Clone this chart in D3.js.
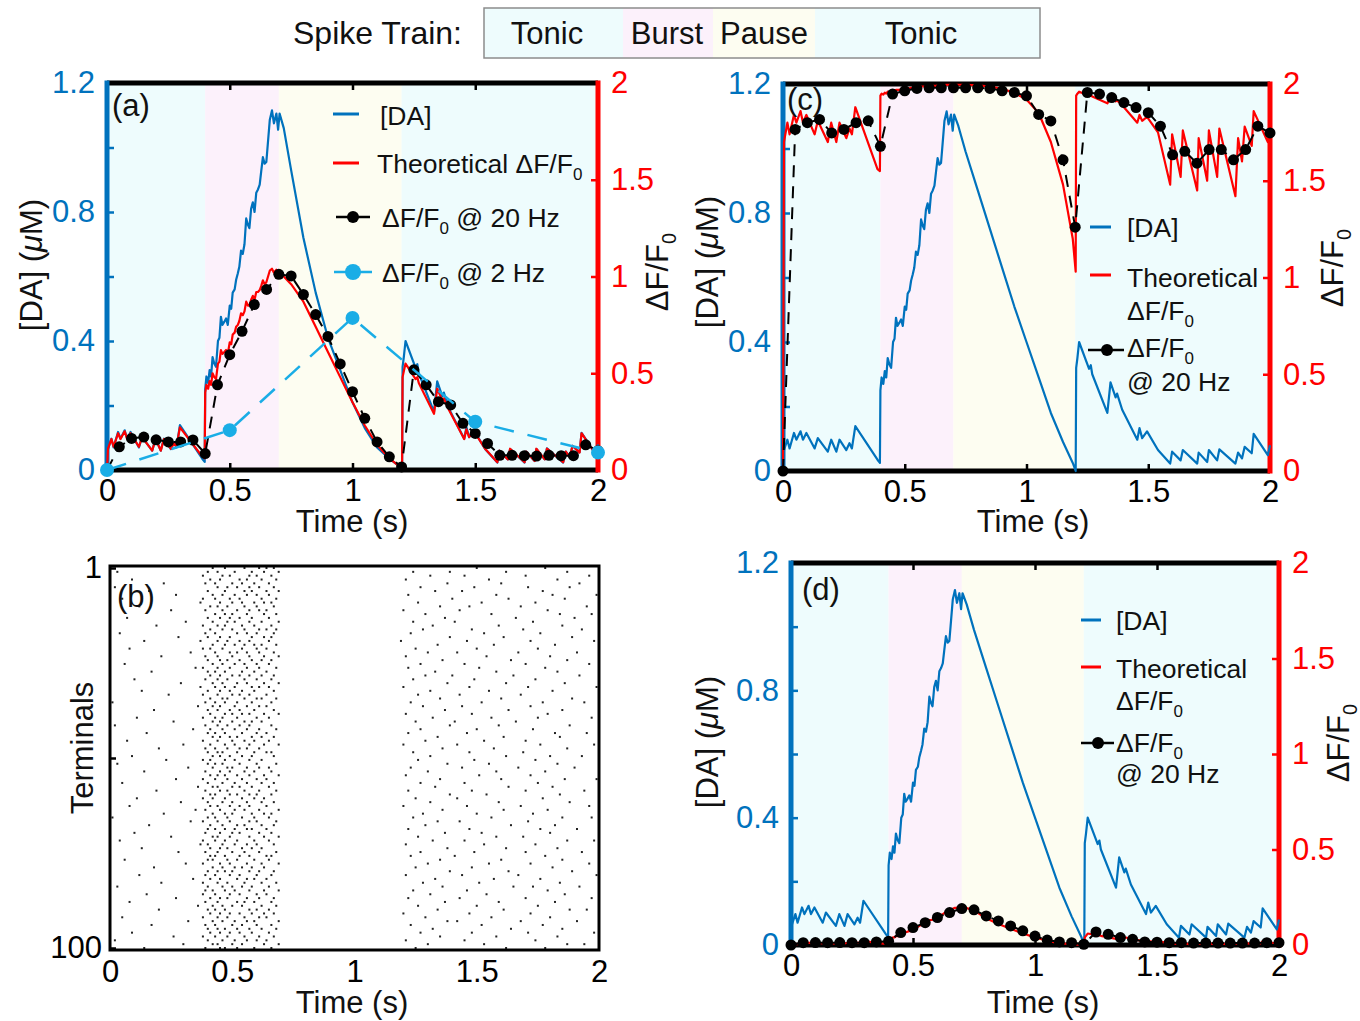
<!DOCTYPE html>
<html><head><meta charset="utf-8">
<script src="https://cdn.jsdelivr.net/npm/d3@7"></script>
<style>body{margin:0;background:#fff}</style>
</head><body>
<script>
// ---------------- DATA ----------------
const phaseNames = ['Tonic','Burst','Pause','Tonic'];
const phaseStart = [0, 0.4, 0.7, 1.2];
const phaseEnd   = [0.4, 0.7, 1.2, 2];
const phaseColors = ['#eefcfd','#fcf1fb','#fdfdf1','#eefcfd'];

const xTickVals = [0, 0.5, 1, 1.5, 2];
const daTickVals = [0, 0.2, 0.4, 0.6, 0.8, 1, 1.2];
const daLabelVals = [0, 0.4, 0.8, 1.2];
const dffTickVals = [0, 0.5, 1, 1.5, 2];

// vertex times (s) of the simulated traces, by segment
const tTonic1 = [0,0.004,0.018,0.027,0.045,0.055,0.072,0.082,0.096,0.130,0.143,0.184,0.198,0.219,0.232,0.260,0.273,0.283,0.297,0.388];
const tBurst = [0.398,0.400,0.405,0.412,0.418,0.424,0.430,0.437,0.444,0.452,0.458,0.464,0.470,0.478,0.485,0.492,0.500,0.506,0.512,0.520,0.526,0.533,0.539,0.546,0.553,0.560,0.567,0.574,0.580,0.587,0.594,0.601,0.608,0.615,0.622,0.628,0.635,0.642,0.649,0.656,0.663,0.672,0.680,0.690,0.697,0.703];
const tPause = [0.720,0.750,0.800,0.850,0.900,0.950,1.000,1.050,1.100,1.150,1.190,1.202];
const tTonic2 = [1.204,1.209,1.216,1.257,1.264,1.270,1.332,1.345,1.366,1.372,1.393,1.455,1.464,1.475,1.495,1.540,1.590,1.598,1.633,1.642,1.701,1.707,1.742,1.749,1.783,1.792,1.858,1.869,1.885,1.896,1.925,1.933,1.991,2.000];

// [DA] (uM)
const daTonic1 = [0,0.065,0.097,0.070,0.118,0.097,0.123,0.097,0.118,0.070,0.102,0.060,0.097,0.060,0.097,0.065,0.086,0.070,0.139,0.035];
const daBurst = [0.025,0.25,0.29,0.27,0.31,0.29,0.35,0.33,0.32,0.40,0.41,0.475,0.45,0.46,0.47,0.45,0.51,0.50,0.55,0.56,0.59,0.61,0.63,0.68,0.67,0.70,0.78,0.76,0.75,0.81,0.83,0.80,0.86,0.87,0.885,0.925,0.97,0.95,0.955,1.02,1.085,1.115,1.075,1.105,1.055,1.105];
const daPauseA = [1.06,0.93,0.72,0.55,0.41,0.31,0.21,0.13,0.07,0.035,0.012,0];
const daPauseCD = [1.07,0.99,0.87,0.75,0.63,0.51,0.40,0.29,0.18,0.09,0.025,0];
const daTonic2 = [0.32,0.35,0.40,0.317,0.328,0.30,0.18,0.275,0.228,0.24,0.19,0.097,0.133,0.102,0.123,0.065,0.023,0.060,0.033,0.065,0.023,0.057,0.028,0.065,0.033,0.067,0.023,0.057,0.039,0.075,0.055,0.115,0.049,0.080];

// Theoretical dF/F0 per panel
const dffA = [
 0,0.11,0.16,0.12,0.19,0.16,0.20,0.16,0.19,0.12,0.17,0.10,0.16,0.10,0.16,0.11,0.14,0.12,0.22,0.07,
 0.06,0.40,0.44,0.42,0.46,0.44,0.50,0.48,0.47,0.55,0.56,0.62,0.60,0.61,0.62,0.60,0.66,0.65,0.70,0.71,0.74,0.75,0.77,0.81,0.80,0.82,0.87,0.85,0.85,0.88,0.90,0.88,0.92,0.92,0.93,0.95,0.98,0.96,0.97,1.00,1.03,1.04,1.02,1.035,1.01,1.03,
 1.00,0.96,0.87,0.74,0.61,0.48,0.35,0.23,0.13,0.06,0.02,0,
 0.48,0.51,0.55,0.47,0.48,0.45,0.29,0.42,0.36,0.37,0.31,0.16,0.21,0.17,0.20,0.11,0.04,0.10,0.055,0.11,0.04,0.095,0.047,0.11,0.055,0.11,0.04,0.095,0.065,0.125,0.09,0.19,0.08,0.13];
const dffC = [
 0,1.70,1.80,1.74,1.84,1.80,1.86,1.80,1.84,1.74,1.81,1.70,1.80,1.70,1.80,1.72,1.77,1.74,1.88,1.56,
 1.55,1.94,1.95,1.945,1.955,1.95,1.96,1.955,1.955,1.965,1.965,1.97,1.97,1.97,1.972,1.97,1.975,1.975,1.978,1.978,1.98,1.98,1.982,1.984,1.984,1.985,1.987,1.987,1.987,1.988,1.989,1.989,1.99,1.99,1.99,1.991,1.992,1.992,1.992,1.993,1.994,1.995,1.995,1.995,1.995,1.996,
 1.996,1.996,1.993,1.987,1.975,1.955,1.92,1.85,1.70,1.48,1.20,1.03,
 1.94,1.95,1.96,1.94,1.945,1.935,1.90,1.93,1.91,1.915,1.89,1.80,1.84,1.81,1.83,1.75,1.48,1.74,1.52,1.76,1.45,1.72,1.50,1.76,1.52,1.77,1.42,1.72,1.60,1.78,1.68,1.86,1.70,1.76];
const dffD = [
 0,0.003,0.006,0.005,0.010,0.008,0.012,0.010,0.013,0.008,0.011,0.007,0.011,0.008,0.012,0.009,0.012,0.011,0.020,0.006,
 0.005,0.030,0.035,0.035,0.040,0.040,0.047,0.046,0.047,0.057,0.060,0.068,0.067,0.070,0.073,0.072,0.080,0.081,0.090,0.095,0.100,0.105,0.108,0.116,0.117,0.122,0.131,0.131,0.133,0.141,0.146,0.146,0.154,0.157,0.161,0.167,0.174,0.174,0.177,0.184,0.190,0.195,0.194,0.196,0.194,0.196,
 0.193,0.182,0.140,0.110,0.085,0.060,0.040,0.022,0.010,0.004,0.001,0,
 0.040,0.048,0.060,0.050,0.052,0.048,0.032,0.042,0.038,0.039,0.032,0.018,0.022,0.018,0.020,0.012,0.004,0.010,0.005,0.011,0.004,0.009,0.005,0.011,0.005,0.011,0.004,0.009,0.006,0.012,0.009,0.020,0.008,0.013];

// sampled dF/F0 @ 20 Hz
const t20 = [0,0.05,0.1,0.15,0.2,0.25,0.3,0.35,0.4,0.45,0.5,0.55,0.6,0.65,0.7,0.75,0.8,0.85,0.9,0.95,1,1.05,1.1,1.15,1.2,1.25,1.3,1.35,1.4,1.45,1.5,1.55,1.6,1.65,1.7,1.75,1.8,1.85,1.9,1.95,2];
const dots20A = [0,0.12,0.163,0.17,0.156,0.145,0.145,0.155,0.085,0.44,0.596,0.717,0.855,0.933,1.011,1.003,0.907,0.803,0.69,0.548,0.405,0.267,0.145,0.068,0.016,0.518,0.44,0.353,0.336,0.241,0.189,0.137,0.076,0.076,0.074,0.072,0.076,0.074,0.074,0.13,0.10];
const dots20C = [0,1.765,1.80,1.817,1.747,1.765,1.80,1.81,1.678,1.948,1.965,1.977,1.98,1.98,1.98,1.98,1.98,1.977,1.965,1.956,1.939,1.843,1.809,1.608,1.26,1.956,1.948,1.93,1.904,1.878,1.852,1.782,1.634,1.652,1.591,1.661,1.661,1.608,1.661,1.782,1.747];
const dots20D = [0,0.012,0.013,0.012,0.013,0.012,0.012,0.016,0.02,0.065,0.091,0.117,0.144,0.17,0.191,0.184,0.152,0.126,0.10,0.074,0.047,0.026,0.016,0.012,0.004,0.068,0.056,0.039,0.03,0.016,0.015,0.012,0.012,0.01,0.01,0.01,0.01,0.01,0.01,0.012,0.012];
// sampled dF/F0 @ 2 Hz (panel a)
const t2 = [0, 0.5, 1, 1.5, 2];
const dots2A = [0, 0.206, 0.786, 0.249, 0.09];

// raster: spike times per terminal, in units of 10 ms
const spikes = [
[42,47,55,61,64,67,150,178],[3,40,44,51,58,63,69,124,139,162,187],[38,46,49,57,60,66,131,145,170,196],[9,41,45,53,56,62,68,121,155,183],
[22,39,43,50,54,59,65,138,160,192],[2,44,48,52,57,61,67,127,149,171,188],[16,40,47,55,58,64,69,133,144,177],[27,42,46,51,56,60,65,122,158,181,199],
[5,38,43,49,53,62,68,140,163,186],[37,45,50,54,59,63,66,126,152,174],[12,41,44,48,55,60,67,135,147,168,195],[25,39,46,52,57,61,64,120,143,179],
[43,47,50,56,63,68,129,156,184,197],[7,40,45,49,53,58,65,137,166,190],[31,42,48,51,57,62,69,124,141,173],[19,38,44,47,54,59,66,132,159,185],
[41,46,50,55,61,64,68,128,148,169,193],[4,39,43,52,56,60,67,123,153,176],[28,40,45,49,58,63,66,139,161,189],[14,37,44,48,53,57,65,119,146,172,198],
[42,47,51,55,59,62,68,134,157,182],[8,38,41,46,54,60,64,125,150,175],[33,43,49,52,56,61,67,130,142,167,191],[21,39,44,50,57,63,69,121,154,180],
[40,45,48,53,58,62,66,136,164,187],[6,42,46,51,55,60,65,127,145,170,196],[35,38,44,49,56,61,68,122,151,178],[17,40,43,47,54,59,64,133,158,183],
[41,45,50,53,57,62,67,129,140,165,192],[10,39,44,48,55,60,66,124,149,174],[29,42,46,52,56,63,69,138,162,186],[37,43,47,51,58,61,65,120,147,171,199],
[13,40,45,49,54,59,67,131,155,181],[24,38,44,50,53,57,64,126,143,168],[41,46,48,55,60,62,68,135,160,189],[1,39,43,47,52,58,66,123,152,177,194],
[36,42,45,51,56,61,64,128,144,172],[18,40,44,49,53,59,67,137,163,185],[41,47,50,54,57,63,69,121,148,179],[11,38,43,46,52,60,65,132,156,175,197],
[26,42,45,50,55,58,62,125,141,166],[2,39,44,48,53,57,66,139,159,188],[34,41,46,51,56,61,68,127,150,173],[15,40,43,47,54,60,64,122,146,182,195],
[42,45,49,52,58,62,67,134,161,184],[7,38,44,50,55,59,65,129,153,170],[30,41,47,51,57,63,69,120,142,176,198],[20,39,43,48,53,56,61,136,157,187],
[40,44,46,52,59,64,66,124,147,169],[9,42,45,49,54,58,67,131,162,180,193],[23,38,41,47,51,57,62,126,149,174],[3,40,43,46,53,60,68,138,155,183],
[32,42,48,50,56,61,65,123,144,167,190],[14,39,45,49,55,59,66,130,158,178],[41,44,47,52,57,63,69,121,151,172],[27,38,43,48,54,60,64,135,160,186,199],
[5,40,46,51,56,62,67,127,145,175],[36,42,44,50,53,58,65,133,163,181],[19,39,45,48,55,61,68,122,148,170,194],[41,43,49,52,57,60,66,139,154,184],
[11,38,42,47,54,59,63,125,142,177],[29,40,46,50,56,62,67,131,159,188],[8,41,44,49,53,57,64,120,146,168,196],[35,39,45,51,55,61,69,136,161,179],
[22,42,47,50,58,63,66,128,150,173],[1,40,43,48,54,59,65,124,156,185,197],[33,38,44,49,57,60,68,134,143,171],[16,41,46,52,55,62,67,129,164,182],
[40,43,47,51,56,58,64,122,147,176,191],[10,39,45,50,53,61,66,137,152,180],[25,42,44,49,57,63,69,126,158,169],[4,38,43,47,52,59,65,132,145,187,198],
[37,40,46,51,56,60,67,121,153,174],[13,41,45,48,54,58,62,138,162,183],[28,39,44,50,55,61,68,127,149,170,193],[41,43,47,53,57,64,66,123,141,178],
[6,40,42,48,52,59,65,135,160,185],[31,38,45,49,56,62,69,130,155,172,196],[18,42,46,51,54,58,63,125,148,181],[40,44,47,50,57,61,67,139,163,189],
[12,39,43,49,53,60,66,121,144,167,199],[34,41,45,52,56,59,64,133,157,176],[21,38,44,48,55,62,68,128,151,184],[3,40,46,50,54,58,65,136,165,173,192],
[39,42,47,51,57,63,69,124,146,179],[15,38,43,49,53,60,64,131,154,186],[27,41,45,48,56,61,67,122,143,170,197],[8,39,44,52,55,59,66,137,159,182],
[36,42,46,50,54,62,68,126,150,175],[20,40,43,47,57,60,65,134,161,188,195],[41,45,49,53,58,63,67,120,147,172],[5,38,44,48,55,61,64,129,156,180],
[32,42,46,51,56,59,69,138,142,168,191],[17,39,43,50,54,60,66,123,152,177],[40,44,47,52,57,62,68,132,164,185],[9,41,45,49,53,58,65,127,148,171,198],
[26,38,43,48,55,61,67,135,158,183],[2,40,46,51,56,60,64,121,145,174],[30,42,44,50,54,63,69,130,153,187,194],[14,39,45,47,52,59,66,125,162,178]
];

// ---------------- DRAW ----------------
const FONT = '"Liberation Sans", Arial, Helvetica, sans-serif';
const BLUE = '#0072BD', RED = '#FF0000', CYAN = '#1AADE6', INK = '#111';
const LEG = 26.5;   // legend font size
const svg = d3.select('body').append('svg').attr('width',1360).attr('height',1021)
  .style('font-family', FONT);

function rich(g, x, y, parts, opt = {}) {
  const size = opt.size || 31;
  const subSize = Math.round(size * 0.64), subDy = Math.round(size * 0.26);
  const t = g.append('text').attr('x', x).attr('y', y).attr('fill', opt.fill || INK)
    .style('font-size', size + 'px');
  if (opt.anchor) t.attr('text-anchor', opt.anchor);
  if (opt.transform) t.attr('transform', opt.transform);
  let sub = false;
  parts.forEach(p => {
    const s = t.append('tspan').text(p.t);
    if (p.sub) { s.attr('dy', subDy).style('font-size', subSize + 'px'); sub = true; }
    else if (sub) { s.attr('dy', -subDy); sub = false; }
    if (p.it) s.style('font-style', 'italic');
  });
  return t;
}
const DFF = [{t:'ΔF/F'},{t:'0',sub:true}];

function axisStyle(sel, color) {
  sel.select('.domain').remove();
  sel.selectAll('.tick line').attr('stroke', color).attr('stroke-width', 2.5);
  sel.selectAll('.tick text').attr('fill', color).style('font-size', '31px').style('font-family', FONT);
}

function dualPanel(P) {
  const g = svg.append('g');
  const x = d3.scaleLinear([0, 2], [P.x0, P.x1]);
  const yL = d3.scaleLinear([0, 1.2], [P.yB, P.yT]);
  const yR = d3.scaleLinear([0, 2], [P.yB, P.yT]);
  // phase shading
  g.append('g').selectAll('rect').data(phaseStart).join('rect')
    .attr('x', d => x(d)).attr('width', (d, i) => x(phaseEnd[i]) - x(d))
    .attr('y', P.yT).attr('height', P.yB - P.yT).attr('fill', (d, i) => phaseColors[i]);
  // axes
  g.append('g').attr('transform', `translate(0,${P.yB})`)
    .call(d3.axisBottom(x).tickValues(xTickVals).tickSize(-7).tickSizeOuter(0).tickPadding(9).tickFormat(d => String(d)))
    .call(s => axisStyle(s, '#000'));
  g.append('g').attr('transform', `translate(0,${P.yT})`)
    .call(d3.axisTop(x).tickValues(xTickVals).tickSize(-7).tickSizeOuter(0).tickFormat(''))
    .call(s => axisStyle(s, '#000'));
  g.append('g').attr('transform', `translate(${P.x0},0)`)
    .call(d3.axisLeft(yL).tickValues(daTickVals).tickSize(-7).tickSizeOuter(0).tickPadding(12)
      .tickFormat(d => daLabelVals.includes(d) ? String(d) : ''))
    .call(s => axisStyle(s, BLUE));
  g.append('g').attr('transform', `translate(${P.x1},0)`)
    .call(d3.axisRight(yR).tickValues(dffTickVals).tickSize(-7).tickSizeOuter(0).tickPadding(13).tickFormat(d => String(d)))
    .call(s => axisStyle(s, RED));
  // frame
  const [xa, xb] = x.range(), [ya, yb] = yL.range();
  g.append('line').attr('x1', xa).attr('x2', xb).attr('y1', yb).attr('y2', yb).attr('stroke', '#000').attr('stroke-width', 5);
  g.append('line').attr('x1', xa).attr('x2', xb).attr('y1', ya).attr('y2', ya).attr('stroke', '#000').attr('stroke-width', 5);
  g.append('line').attr('x1', xa).attr('x2', xa).attr('y1', ya + 2.5).attr('y2', yb - 2.5).attr('stroke', BLUE).attr('stroke-width', 5);
  g.append('line').attr('x1', xb).attr('x2', xb).attr('y1', ya + 2.5).attr('y2', yb - 2.5).attr('stroke', RED).attr('stroke-width', 5);
  // data
  const lnL = d3.line().x(d => x(d[0])).y(d => yL(d[1]));
  const lnR = d3.line().x(d => x(d[0])).y(d => yR(d[1]));
  g.append('path').datum(d3.zip(P.t, P.da)).attr('d', lnL).attr('fill', 'none')
    .attr('stroke', BLUE).attr('stroke-width', 2.2).attr('stroke-linejoin', 'round');
  g.append('path').datum(d3.zip(P.t, P.dff)).attr('d', lnR).attr('fill', 'none')
    .attr('stroke', RED).attr('stroke-width', 2.2).attr('stroke-linejoin', 'round');
  const d20 = d3.zip(t20, P.dots);
  g.append('path').datum(d20).attr('d', lnR).attr('fill', 'none')
    .attr('stroke', '#000').attr('stroke-width', 2).attr('stroke-dasharray', '12,9');
  g.append('g').selectAll('circle').data(d20).join('circle')
    .attr('cx', d => x(d[0])).attr('cy', d => yR(d[1])).attr('r', 5.5).attr('fill', '#000');
  if (P.dots2) {
    const d2 = d3.zip(t2, P.dots2);
    g.append('path').datum(d2).attr('d', lnR).attr('fill', 'none')
      .attr('stroke', CYAN).attr('stroke-width', 2.5).attr('stroke-dasharray', '20,14');
    g.append('g').selectAll('circle').data(d2).join('circle')
      .attr('cx', d => x(d[0])).attr('cy', d => yR(d[1])).attr('r', 7).attr('fill', CYAN);
  }
  // labels
  rich(g, P.lab[0], P.lab[1], [{t: P.label}]);
  rich(g, 0, 0, [{t:'Time (s)'}], {anchor:'middle', transform:`translate(${P.timeX},${P.timeY})`});
  rich(g, 0, 0, [{t:'[DA] ('},{t:'μ',it:true},{t:'M)'}], {anchor:'middle', transform:`translate(${P.ylX},${P.ylY}) rotate(-90)`});
  rich(g, 0, 0, DFF, {anchor:'middle', transform:`translate(${P.yrX},${P.yrY}) rotate(-90)`});
  P.legend(g);
}

function legLine(g, x1, x2, y, color, w) {
  g.append('line').attr('x1', x1).attr('x2', x2).attr('y1', y).attr('y2', y).attr('stroke', color).attr('stroke-width', w || 3);
}
function legDot(g, cx, cy, r, color) {
  g.append('circle').attr('cx', cx).attr('cy', cy).attr('r', r).attr('fill', color);
}
const L = {size: LEG};

// Panel (a)
dualPanel({x0:107, x1:598, yT:83, yB:470,
  t: [...tTonic1, ...tBurst, ...tPause, ...tTonic2],
  da: [...daTonic1, ...daBurst, ...daPauseA, ...daTonic2],
  dff: dffA, dots: dots20A, dots2: dots2A,
  label:'(a)', lab:[112,116], timeX:352, timeY:532, ylX:42, ylY:265, yrX:668, yrY:272,
  legend: g => {
    legLine(g, 333, 359, 114, BLUE);
    rich(g, 380, 125, [{t:'[DA]'}], L);
    legLine(g, 333, 359, 163, RED);
    rich(g, 377, 173, [{t:'Theoretical ΔF/F'},{t:'0',sub:true}], L);
    legLine(g, 336, 370, 217, '#000', 2.5); legDot(g, 353, 217, 6, '#000');
    rich(g, 382, 227, [{t:'ΔF/F'},{t:'0',sub:true},{t:' @ 20 Hz'}], L);
    legLine(g, 334, 372, 272, CYAN, 2.5); legDot(g, 353, 272, 8, CYAN);
    rich(g, 382, 282, [{t:'ΔF/F'},{t:'0',sub:true},{t:' @ 2 Hz'}], L);
  }});

// Panel (c)
dualPanel({x0:783, x1:1270, yT:84, yB:471,
  t: [...tTonic1, ...tBurst, ...tPause, ...tTonic2],
  da: [...daTonic1, ...daBurst, ...daPauseCD, ...daTonic2],
  dff: dffC, dots: dots20C,
  label:'(c)', lab:[787,110], timeX:1033, timeY:532, ylX:718, ylY:262, yrX:1343, yrY:268,
  legend: g => {
    legLine(g, 1090, 1111, 227, BLUE);
    rich(g, 1127, 237, [{t:'[DA]'}], L);
    legLine(g, 1090, 1111, 275, RED);
    rich(g, 1127, 287, [{t:'Theoretical'}], L);
    rich(g, 1127, 320, DFF, L);
    legLine(g, 1088, 1124, 350, '#000', 2.5); legDot(g, 1107, 350, 6, '#000');
    rich(g, 1127, 357, DFF, L);
    rich(g, 1127, 391, [{t:'@ 20 Hz'}], L);
  }});

// Panel (d)
dualPanel({x0:791, x1:1279, yT:563, yB:945,
  t: [...tTonic1, ...tBurst, ...tPause, ...tTonic2],
  da: [...daTonic1, ...daBurst, ...daPauseCD, ...daTonic2],
  dff: dffD, dots: dots20D,
  label:'(d)', lab:[802,600], timeX:1043, timeY:1013, ylX:718, ylY:742, yrX:1349, yrY:743,
  legend: g => {
    legLine(g, 1081, 1101, 620, BLUE);
    rich(g, 1116, 630, [{t:'[DA]'}], L);
    legLine(g, 1081, 1101, 667, RED);
    rich(g, 1116, 678, [{t:'Theoretical'}], L);
    rich(g, 1116, 710, DFF, L);
    legLine(g, 1081, 1114, 743, '#000', 2.5); legDot(g, 1098, 743, 6, '#000');
    rich(g, 1116, 752, DFF, L);
    rich(g, 1116, 783, [{t:'@ 20 Hz'}], L);
  }});

// Panel (b) raster
(function () {
  const g = svg.append('g');
  const x = d3.scaleLinear([0, 2], [110, 599]);
  const y = d3.scaleLinear([1, 100], [568, 948]);
  const pts = spikes.flatMap((row, i) => row.map(c => [c / 100, i + 1]));
  g.append('g').attr('transform', 'translate(0,951)')
    .call(d3.axisBottom(x).tickValues(xTickVals).tickSize(0).tickSizeOuter(0).tickPadding(9).tickFormat(d => String(d)))
    .call(s => axisStyle(s, '#000'));
  g.append('g').attr('transform', 'translate(110,0)')
    .call(d3.axisLeft(y).tickValues([1, 50.5, 100]).tickSize(-6).tickSizeOuter(0).tickPadding(8)
      .tickFormat(d => (d === 1 || d === 100) ? String(d) : ''))
    .call(s => axisStyle(s, '#000'));
  g.append('g').selectAll('rect').data(pts).join('rect')
    .attr('x', d => x(d[0]) - 1).attr('y', d => y(d[1]) - 1)
    .attr('width', 2).attr('height', 2).attr('fill', '#222');
  g.append('rect').attr('x', x(0)).attr('y', y(1) - 2).attr('width', x(2) - x(0)).attr('height', y(100) - y(1) + 4)
    .attr('fill', 'none').attr('stroke', '#000').attr('stroke-width', 3);
  rich(g, 117, 607, [{t:'(b)'}]);
  rich(g, 0, 0, [{t:'Time (s)'}], {anchor:'middle', transform:'translate(352,1013)'});
  rich(g, 0, 0, [{t:'Terminals'}], {anchor:'middle', transform:'translate(93,748) rotate(-90)'});
})();

// Top legend: spike train phases
(function () {
  const g = svg.append('g');
  const segX = [484, 623, 713, 815, 1040];
  const labX = [547, 667, 764, 921];
  rich(g, 293, 44, [{t:'Spike Train:'}], {size: 32});
  g.selectAll('rect.seg').data(phaseNames).join('rect')
    .attr('x', (d, i) => segX[i]).attr('width', (d, i) => segX[i + 1] - segX[i])
    .attr('y', 8).attr('height', 50).attr('fill', (d, i) => phaseColors[i]);
  g.append('rect').attr('x', 484).attr('y', 8).attr('width', 556).attr('height', 50)
    .attr('fill', 'none').attr('stroke', '#8c8c8c').attr('stroke-width', 1.5);
  phaseNames.forEach((n, i) => rich(g, labX[i], 44, [{t:n}], {anchor:'middle'}));
})();
</script>
</body></html>
